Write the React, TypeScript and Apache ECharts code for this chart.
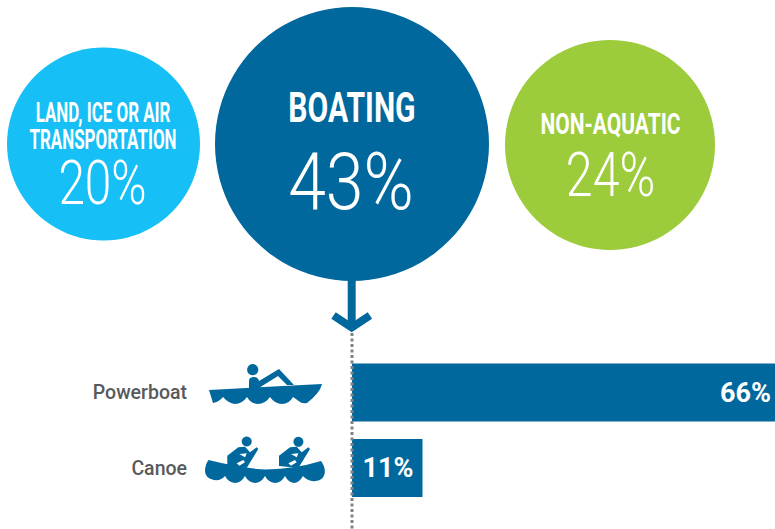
import React, { useEffect, useRef } from "react";
import * as echarts from "echarts";

const bubbleNames = ["LAND, ICE OR AIR\nTRANSPORTATION", "BOATING", "NON-AQUATIC"];
const bubbleValues = [20, 43, 24];
const barCategories = ["Powerboat", "Canoe"];
const barValues = [66, 11];

const DARK = "#00689d";
const LIGHT = "#16bff5";
const GREEN = "#9ccb3b";
const GREY = "#58595b";
const FONT = 'Roboto, "Liberation Sans", sans-serif';

const diameters = [193, 274, 210];
const offsets = [0, -2.5, 4.5];
const fills = [LIGHT, DARK, GREEN];

echarts.graphic.registerShape("powerHull", echarts.graphic.extendPath(
  "M209 390 L322 384 Q320 393 307 403 Q303 404 300 402 Q296 399 293 397 Q289 404 282 404 Q275 404 270 397 Q265 404 258 404 Q251 404 247 397 Q242 404 235 404 Q228 403 223 397 Q219 402 213 403 Z", {}));
echarts.graphic.registerShape("powerBody", echarts.graphic.extendPath(
  "M249 388 L249 381 Q249 377 254 377 Q258 377 259 381 L279 369 L294 385 L287 385 L278 376 L262 386 L259 388 Z", {}));
echarts.graphic.registerShape("canoeHull", echarts.graphic.extendPath(
  "M208.5 460 Q245 469 266 469.5 Q295 469 321 461 Q326 468 324.5 474 Q323 480 316 481 Q308 482 303 476 Q299 483 294 483 Q288 482 285 476 Q281 483 275 483 Q268 482 265 476 Q261 483 255 483 Q248 482 245 476 Q241 483 235 483 Q228 482 225 476 Q221 481 214 480 Q205 478 205 471 Q205 465 208.5 460 Z", {}));
echarts.graphic.registerShape("paddler", echarts.graphic.extendPath(
  "M227.3 466 L227.3 455.7 L238.3 447.3 L245 446.7 L250 452.3 L256.7 447.3 L258.3 449 L246.7 468 Z M239.3 454 L245 457.3 L246.7 453.3 Z M239.3 465.7 L245 462.3 L243.3 460 L236.7 463.3 Z", {}));

const wide = (x: number, y: number, text: string, size: number, scaleX: number, weight: any) => ({
  type: "text", x, y, scaleX, z: 10,
  style: { text, fill: "#fff", font: `${weight} ${size}px ${FONT}`, textAlign: "center", textVerticalAlign: "middle" },
});

const icon = (type: string, x = 0) => ({ type, x, z: 10, style: { fill: DARK } });

export default function App() {
  const ref = useRef<HTMLDivElement>(null);
  useEffect(() => {
    document.body.style.margin = "0";
    const chart = echarts.init(ref.current!, undefined, { renderer: "svg" });
    const nameLines = bubbleNames[0].split("\n");
    chart.setOption({
      animation: false,
      grid: [
        { left: 352, top: 354.75, width: 423, height: 151 },
        { left: 103.5, top: 44, width: 502, height: 200 },
      ],
      xAxis: [
        { type: "value", gridIndex: 0, min: 0, max: 66, show: false },
        { type: "category", gridIndex: 1, data: bubbleNames, boundaryGap: false, show: false },
      ],
      yAxis: [
        {
          type: "category", gridIndex: 0, data: barCategories, inverse: true,
          axisLine: { show: false }, axisTick: { show: false },
          axisLabel: { margin: 165, color: GREY, fontSize: 19.5, fontWeight: 500, fontFamily: FONT },
        },
        { type: "value", gridIndex: 1, min: 0, max: 2, show: false },
      ],
      series: [
        {
          type: "bar", xAxisIndex: 0, yAxisIndex: 0, barWidth: 58, silent: true,
          itemStyle: { color: DARK },
          data: barValues.map((value, i) => ({
            value,
            label: {
              show: true, position: "insideRight", distance: i === 0 ? 4 : 9,
              formatter: "{c}%", color: "#fff", fontSize: 27, fontWeight: 700, fontFamily: FONT,
            },
          })),
        },
        {
          type: "scatter", xAxisIndex: 1, yAxisIndex: 1, silent: true,
          data: bubbleValues.map((v, i) => ({
            value: [i, 1], symbolSize: diameters[i], symbolOffset: [offsets[i], i === 2 ? 1 : 0],
            itemStyle: { color: fills[i], opacity: 1 }, name: String(v),
          })),
        },
      ],
      graphic: {
        elements: [
          wide(103, 113, nameLines[0], 28, 0.605, 700),
          wide(103, 140, nameLines[1], 28, 0.605, 700),
          wide(102.5, 183, `${bubbleValues[0]}%`, 62, 0.77, 300),
          wide(352, 108, bubbleNames[1], 43, 0.7, 700),
          wide(351, 182, `${bubbleValues[1]}%`, 80, 0.85, 300),
          wide(610.5, 124, bubbleNames[2], 30, 0.7, 700),
          wide(610.5, 175, `${bubbleValues[2]}%`, 62, 0.78, 300),
          { type: "rect", z: 10, shape: { x: 347.7, y: 278, width: 8, height: 48 }, style: { fill: DARK } },
          {
            type: "polyline", z: 10,
            shape: { points: [[333.5, 315.5], [351.7, 327.5], [369.9, 315.5]] },
            style: { stroke: DARK, lineWidth: 8, fill: "none", lineJoin: "miter" },
          },
          {
            type: "line", z: 10, shape: { x1: 352, y1: 333, x2: 352, y2: 529 },
            style: { stroke: "#808285", lineWidth: 3, lineDash: [3, 2.5] },
          },
          icon("powerHull"),
          icon("powerBody"),
          { type: "circle", z: 10, shape: { cx: 252.7, cy: 369.7, r: 5.6 }, style: { fill: DARK } },
          icon("canoeHull"),
          icon("paddler"),
          icon("paddler", 51.7),
          { type: "circle", z: 10, shape: { cx: 246.7, cy: 441.5, r: 5 }, style: { fill: DARK } },
          { type: "circle", z: 10, shape: { cx: 298.4, cy: 441.8, r: 5 }, style: { fill: DARK } },
        ],
      },
    });
    return () => chart.dispose();
  }, []);
  return <div ref={ref} style={{ width: 775, height: 529 }} />;
}
